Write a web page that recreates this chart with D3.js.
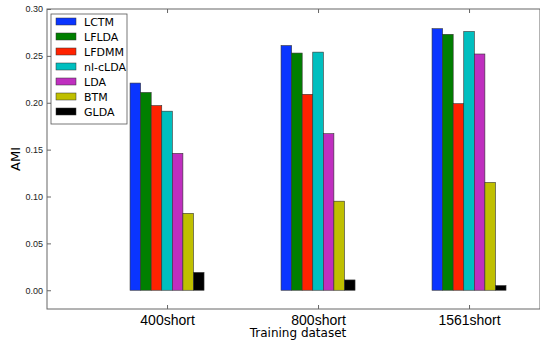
<!DOCTYPE html>
<html>
<head>
<meta charset="utf-8">
<script src="https://cdn.jsdelivr.net/npm/d3@7"></script>
<style>
  body { margin: 0; background: #fff; }
  svg { font-family: "DejaVu Sans", sans-serif; }
</style>
</head>
<body>
<div id="chart"></div>
<script>
// data
var datasets = ["400short", "800short", "1561short"];
var models = ["LCTM", "LFLDA", "LFDMM", "nl-cLDA", "LDA", "BTM", "GLDA"];
var modelColors = ["#0a35ff", "#007f00", "#ff2200", "#00bfbf", "#bf2fbf", "#bfbf00", "#000000"];
var ami = {
  "LCTM":    [0.221, 0.261, 0.279],
  "LFLDA":   [0.211, 0.253, 0.273],
  "LFDMM":   [0.197, 0.209, 0.199],
  "nl-cLDA": [0.191, 0.254, 0.276],
  "LDA":     [0.146, 0.167, 0.252],
  "BTM":     [0.082, 0.095, 0.115],
  "GLDA":    [0.019, 0.011, 0.005]
};
var yTicks = [0.00, 0.05, 0.10, 0.15, 0.20, 0.25, 0.30];

var W = 540, H = 343;
var margin = {top: 9, right: 0, bottom: 34, left: 47};

var svg = d3.select("#chart").append("svg")
  .attr("width", W).attr("height", H);

var barW = 0.07;
var x = d3.scaleLinear()
  .domain([-0.795, 2.47])
  .range([margin.left, W - margin.right]);
var y = d3.scaleLinear()
  .domain([-0.02, 0.30])
  .range([H - margin.bottom, margin.top]);

var color = d3.scaleOrdinal().domain(models).range(modelColors);

// bars
models.forEach(function(m, i) {
  svg.append("g").selectAll("rect")
    .data(ami[m])
    .enter().append("rect")
      .attr("x", function(d, j) { return x(j - 3.5 * barW + i * barW); })
      .attr("y", function(d) { return y(d); })
      .attr("width", x(barW) - x(0))
      .attr("height", function(d) { return y(0) - y(d); })
      .style("fill", color(m))
      .style("stroke", "#333")
      .style("stroke-width", 0.6);
});

// frame
var x0 = margin.left, x1 = W - margin.right, y0 = margin.top, y1 = H - margin.bottom;
svg.append("rect")
  .attr("x", x0).attr("y", y0)
  .attr("width", x1 - x0).attr("height", y1 - y0)
  .style("fill", "none").style("stroke", "#666").style("stroke-width", 1);

// y axis (ticks inside)
var yAxis = svg.append("g")
  .attr("transform", "translate(" + x0 + ",0)")
  .call(d3.axisRight(y).tickValues(yTicks).tickSize(4).tickFormat(d3.format(".2f")));
yAxis.select(".domain").remove();
yAxis.selectAll("line").attr("stroke", "#666");
yAxis.selectAll("text")
  .attr("x", -4).attr("text-anchor", "end")
  .style("font-size", "9px").style("fill", "#222");

// x axis (ticks inside, top and bottom)
var xAxis = svg.append("g")
  .attr("transform", "translate(0," + y1 + ")")
  .call(d3.axisTop(x).tickValues([0, 1, 2]).tickSize(4).tickFormat(function(d) { return datasets[d]; }));
xAxis.select(".domain").remove();
xAxis.selectAll("line").attr("stroke", "#666");
xAxis.selectAll("text")
  .attr("y", 15.5).attr("dy", "0")
  .style("font-size", "14px").style("fill", "#000");

var xTop = svg.append("g")
  .attr("transform", "translate(0," + y0 + ")")
  .call(d3.axisBottom(x).tickValues([0, 1, 2]).tickSize(4).tickFormat(""));
xTop.select(".domain").remove();
xTop.selectAll("line").attr("stroke", "#666");

// axis titles
svg.append("text")
  .attr("x", 298).attr("y", 337)
  .attr("text-anchor", "middle")
  .style("font-size", "12px")
  .text("Training dataset");
svg.append("text")
  .attr("transform", "translate(19.5,159) rotate(-90)")
  .attr("text-anchor", "middle")
  .style("font-size", "13px")
  .text("AMI");

// legend
var legend = svg.append("g").attr("transform", "translate(51,14)");
legend.append("rect")
  .attr("width", 76).attr("height", 110)
  .style("fill", "#fff").style("stroke", "#555").style("stroke-width", 0.8);
models.forEach(function(m, i) {
  var row = legend.append("g").attr("transform", "translate(5," + (4 + i * 15) + ")");
  row.append("rect")
    .attr("width", 20).attr("height", 7)
    .style("fill", color(m)).style("stroke", "#333").style("stroke-width", 0.5);
  row.append("text")
    .attr("x", 28).attr("y", 7.5)
    .style("font-size", "11px")
    .text(m);
});
</script>
</body>
</html>
